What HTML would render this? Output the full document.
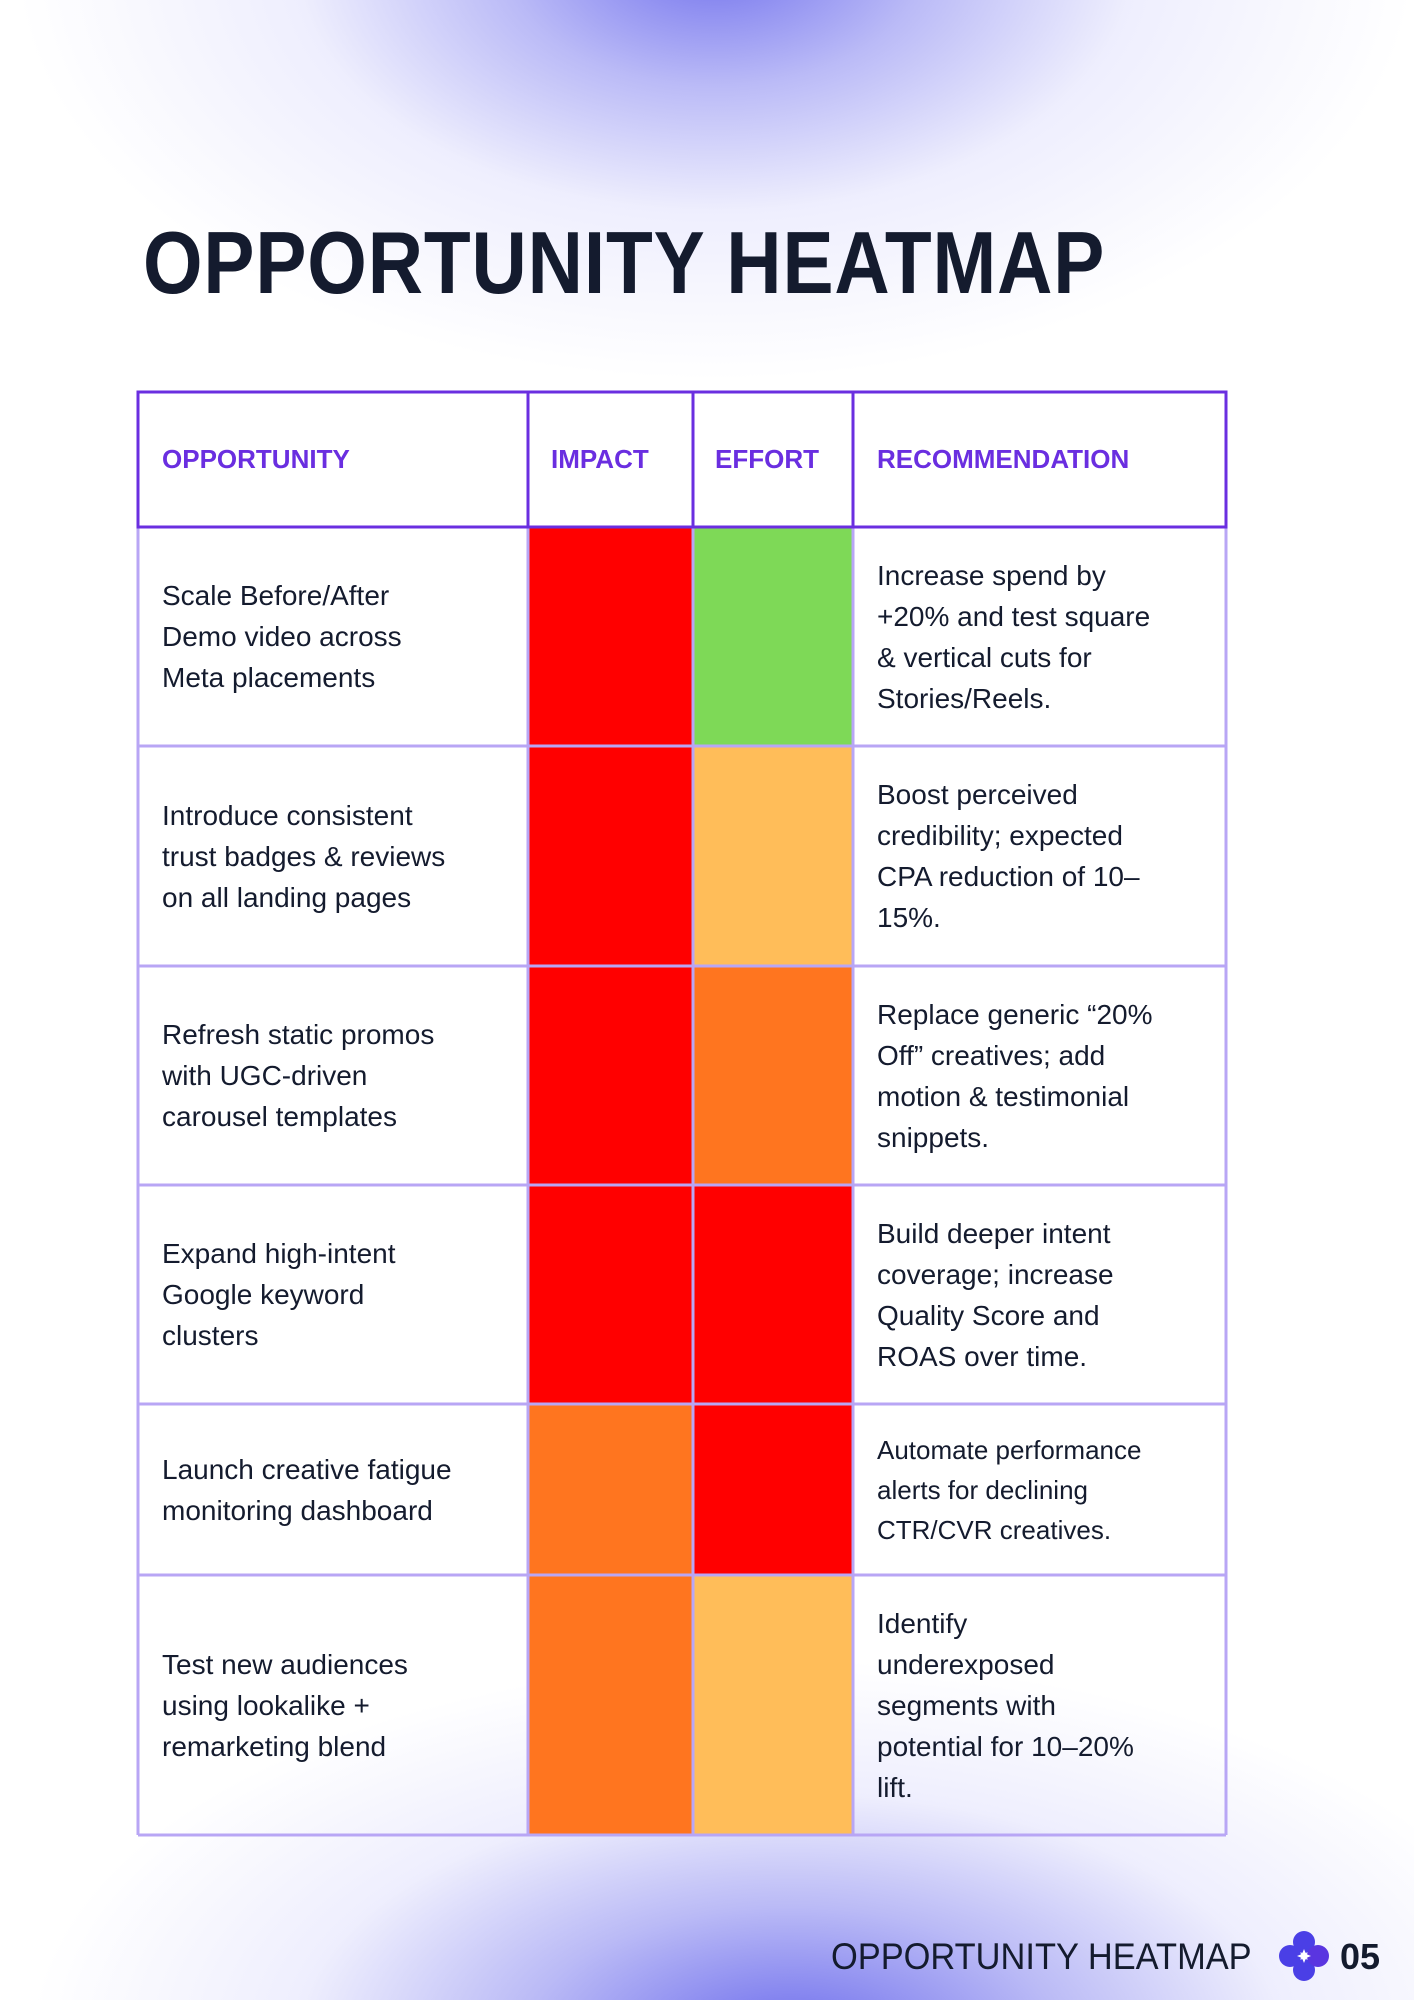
<!DOCTYPE html>
<html><head><meta charset="utf-8"><style>
*{margin:0;padding:0;box-sizing:border-box}
body{width:1414px;height:2000px;position:relative;overflow:hidden;font-family:"Liberation Sans",sans-serif;
background:
radial-gradient(ellipse 700px 420px at 715px -40px, rgba(100,100,235,0.9) 0%, rgba(130,130,240,0.55) 30%, rgba(200,200,250,0.3) 60%, rgba(255,255,255,0) 100%),
radial-gradient(ellipse 760px 380px at 790px 2040px, rgba(100,100,235,0.95) 0%, rgba(140,140,240,0.6) 35%, rgba(200,200,250,0.3) 65%, rgba(255,255,255,0) 100%),
#fff;}
.title{position:absolute;left:143px;top:212px;font-size:88px;font-weight:bold;color:#141b2e;white-space:nowrap;transform-origin:0 0;transform:scaleX(0.87);letter-spacing:1px}
.c{position:absolute;display:flex;align-items:center;font-size:28px;line-height:41px;color:#141b2e;padding-left:24px;padding-right:10px}
.h{color:#6a2ee0;font-weight:bold;font-size:26px}
.foot{position:absolute;top:1936px;left:831px;font-size:37px;color:#141b2e;transform-origin:0 0;transform:scaleX(0.93);white-space:nowrap}
.num{position:absolute;top:1936px;left:1340px;font-size:36px;font-weight:bold;color:#141b2e}
</style></head><body>
<div class="title">OPPORTUNITY HEATMAP</div>
<svg style="position:absolute;left:0;top:0" width="1414" height="2000">
<g>
<rect x="528" y="527" width="165" height="219" fill="#ff0000"/><rect x="693" y="527" width="160" height="219" fill="#7ed957"/>
<rect x="528" y="746" width="165" height="220" fill="#ff0000"/><rect x="693" y="746" width="160" height="220" fill="#ffbd59"/>
<rect x="528" y="966" width="165" height="219" fill="#ff0000"/><rect x="693" y="966" width="160" height="219" fill="#ff751f"/>
<rect x="528" y="1185" width="165" height="219" fill="#ff0000"/><rect x="693" y="1185" width="160" height="219" fill="#ff0000"/>
<rect x="528" y="1404" width="165" height="171" fill="#ff751f"/><rect x="693" y="1404" width="160" height="171" fill="#ff0000"/>
<rect x="528" y="1575" width="165" height="260" fill="#ff751f"/><rect x="693" y="1575" width="160" height="260" fill="#ffbd59"/>
</g>
<g stroke="#b8a6f5" stroke-width="3" fill="none">
<line x1="138" y1="527" x2="138" y2="1835"/><line x1="1226" y1="527" x2="1226" y2="1835"/>
<line x1="528" y1="527" x2="528" y2="1835"/><line x1="693" y1="527" x2="693" y2="1835"/><line x1="853" y1="527" x2="853" y2="1835"/>
<line x1="138" y1="746" x2="1226" y2="746"/><line x1="138" y1="966" x2="1226" y2="966"/><line x1="138" y1="1185" x2="1226" y2="1185"/>
<line x1="138" y1="1404" x2="1226" y2="1404"/><line x1="138" y1="1575" x2="1226" y2="1575"/><line x1="138" y1="1835" x2="1226" y2="1835"/>
</g>
<g stroke="#6a2ee0" stroke-width="3" fill="none">
<rect x="138" y="392" width="1088" height="135"/>
<line x1="528" y1="392" x2="528" y2="527"/><line x1="693" y1="392" x2="693" y2="527"/><line x1="853" y1="392" x2="853" y2="527"/>
</g>
<g transform="translate(1304,1956)">
<circle cx="0" cy="-14" r="11" fill="#4a3fe6"/><circle cx="0" cy="14" r="11" fill="#4a3fe6"/>
<circle cx="-14" cy="0" r="11" fill="#4a3fe6"/><circle cx="14" cy="0" r="11" fill="#5a35e0"/>
<path d="M0-7 L2-2 L7 0 L2 2 L0 7 L-2 2 L-7 0 L-2-2Z" fill="#fff"/>
</g>
</svg>
<div class="c h" style="left:138px;top:392px;width:390px;height:135px">OPPORTUNITY</div>
<div class="c h" style="left:528px;top:392px;width:165px;height:135px;padding-left:23px">IMPACT</div>
<div class="c h" style="left:693px;top:392px;width:160px;height:135px;padding-left:22px">EFFORT</div>
<div class="c h" style="left:853px;top:392px;width:373px;height:135px">RECOMMENDATION</div>

<div class="c" style="left:138px;top:527px;width:390px;height:219px">Scale Before/After<br>Demo video across<br>Meta placements</div>
<div class="c" style="left:853px;top:527px;width:373px;height:219px">Increase spend by<br>+20% and test square<br>&amp; vertical cuts for<br>Stories/Reels.</div>
<div class="c" style="left:138px;top:746px;width:390px;height:220px">Introduce consistent<br>trust badges &amp; reviews<br>on all landing pages</div>
<div class="c" style="left:853px;top:746px;width:373px;height:220px">Boost perceived<br>credibility; expected<br>CPA reduction of 10–<br>15%.</div>
<div class="c" style="left:138px;top:966px;width:390px;height:219px">Refresh static promos<br>with UGC-driven<br>carousel templates</div>
<div class="c" style="left:853px;top:966px;width:373px;height:219px">Replace generic “20%<br>Off” creatives; add<br>motion &amp; testimonial<br>snippets.</div>
<div class="c" style="left:138px;top:1185px;width:390px;height:219px">Expand high-intent<br>Google keyword<br>clusters</div>
<div class="c" style="left:853px;top:1185px;width:373px;height:219px">Build deeper intent<br>coverage; increase<br>Quality Score and<br>ROAS over time.</div>
<div class="c" style="left:138px;top:1404px;width:390px;height:171px">Launch creative fatigue<br>monitoring dashboard</div>
<div class="c" style="left:853px;top:1404px;width:373px;height:171px;font-size:26px;line-height:40px">Automate performance<br>alerts for declining<br>CTR/CVR creatives.</div>
<div class="c" style="left:138px;top:1575px;width:390px;height:260px">Test new audiences<br>using lookalike +<br>remarketing blend</div>
<div class="c" style="left:853px;top:1575px;width:373px;height:260px">Identify<br>underexposed<br>segments with<br>potential for 10–20%<br>lift.</div>

<div class="foot">OPPORTUNITY HEATMAP</div>
<div class="num">05</div>
</body></html>
